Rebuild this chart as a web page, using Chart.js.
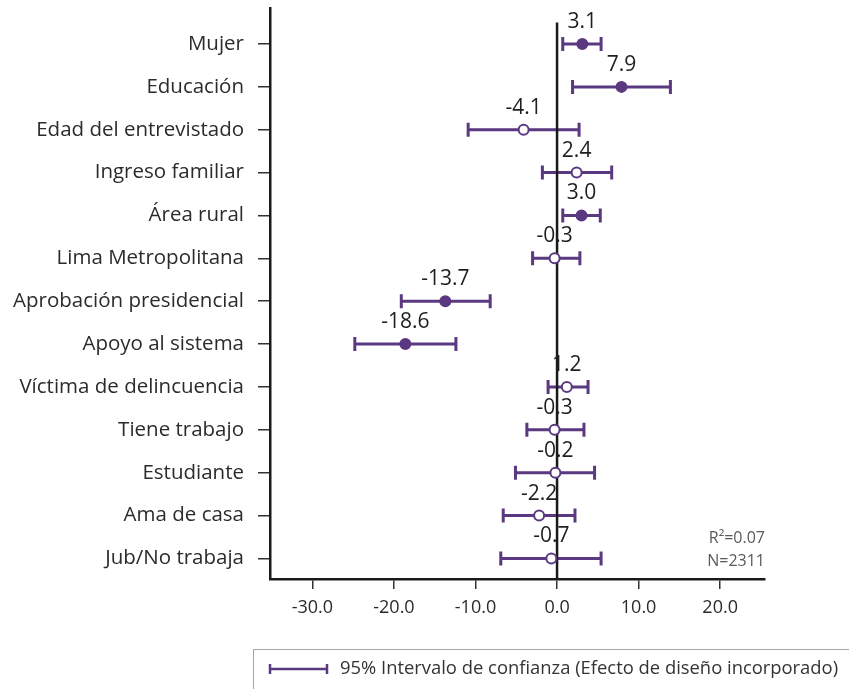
<!DOCTYPE html>
<html>
<head>
<meta charset="utf-8">
<script src="https://cdn.jsdelivr.net/npm/chart.js@4"></script>
<style>
  html, body { margin: 0; padding: 0; background: #fff; }
  canvas { display: block; }
</style>
</head>
<body>
<canvas id="coefChart" width="849" height="689"></canvas>
<script>
const categories = ['Mujer', 'Educación', 'Edad del entrevistado', 'Ingreso familiar', 'Área rural',
  'Lima Metropolitana', 'Aprobación presidencial', 'Apoyo al sistema', 'Víctima de delincuencia',
  'Tiene trabajo', 'Estudiante', 'Ama de casa', 'Jub/No trabaja'];
const coef = [3.1, 7.9, -4.1, 2.4, 3.0, -0.3, -13.7, -18.6, 1.2, -0.3, -0.2, -2.2, -0.7];
const ciLow = [0.7, 1.9, -10.9, -1.8, 0.7, -3.0, -19.1, -24.8, -1.1, -3.7, -5.1, -6.6, -6.9];
const ciHigh = [5.4, 13.9, 2.7, 6.7, 5.3, 2.8, -8.2, -12.4, 3.8, 3.3, 4.6, 2.2, 5.4];
const significant = [true, true, false, false, true, false, true, true, false, false, false, false, false];
const xTicks = [-30, -20, -10, 0, 10, 20];
const statsText = ['R²=0.07', 'N=2311'];
const legendText = '95% Intervalo de confianza (Efecto de diseño incorporado)';

const purple = '#5b3981';
const FONT = '"Open Sans", "Noto Sans", sans-serif';

// error bars + zero line (under the points)
const errorBars = {
  id: 'errorBars',
  beforeDatasetsDraw(chart) {
    const ctx = chart.ctx;
    const xs = chart.scales.x, ys = chart.scales.y;
    ctx.save();
    ctx.strokeStyle = purple;
    ctx.lineWidth = 3;
    coef.forEach((v, i) => {
      const y = ys.getPixelForValue(i);
      const x1 = xs.getPixelForValue(ciLow[i]);
      const x2 = xs.getPixelForValue(ciHigh[i]);
      ctx.beginPath();
      ctx.moveTo(x1, y); ctx.lineTo(x2, y);
      ctx.moveTo(x1, y - 7); ctx.lineTo(x1, y + 7);
      ctx.moveTo(x2, y - 7); ctx.lineTo(x2, y + 7);
      ctx.stroke();
    });
    // zero line
    const x0 = xs.getPixelForValue(0);
    ctx.strokeStyle = '#1a1a1a';
    ctx.lineWidth = 2.5;
    ctx.beginPath();
    ctx.moveTo(x0, ys.getPixelForValue(-0.5));
    ctx.lineTo(x0, chart.chartArea.bottom);
    ctx.stroke();
    ctx.restore();
  },
  afterDraw(chart) {
    const ctx = chart.ctx;
    const xs = chart.scales.x, ys = chart.scales.y;
    ctx.save();
    // value labels
    ctx.fillStyle = '#1f1f1f';
    ctx.font = '21px ' + FONT;
    ctx.textAlign = 'center';
    ctx.textBaseline = 'middle';
    coef.forEach((v, i) => {
      ctx.fillText(v.toFixed(1), xs.getPixelForValue(v), ys.getPixelForValue(i) - 22);
    });
    // stats
    ctx.fillStyle = '#595959';
    ctx.font = '16px ' + FONT;
    ctx.textAlign = 'right';
    ctx.fillText(statsText[0], chart.chartArea.right, 538);
    ctx.fillText(statsText[1], chart.chartArea.right, 561);
    // legend box
    ctx.strokeStyle = '#a6a6a6';
    ctx.lineWidth = 1;
    ctx.strokeRect(253.5, 649.5, 620, 60);
    ctx.strokeStyle = purple;
    ctx.lineWidth = 2.5;
    ctx.beginPath();
    ctx.moveTo(270, 669); ctx.lineTo(327, 669);
    ctx.moveTo(270, 664); ctx.lineTo(270, 674);
    ctx.moveTo(327, 664); ctx.lineTo(327, 674);
    ctx.stroke();
    ctx.fillStyle = '#333';
    ctx.font = '18.4px ' + FONT;
    ctx.textAlign = 'left';
    ctx.fillText(legendText, 340, 669);
    ctx.restore();
  }
};

const ctx = document.getElementById('coefChart').getContext('2d');
const coefChart = new Chart(ctx, {
  type: 'scatter',
  data: {
    datasets: [{
      data: coef.map((v, i) => ({ x: v, y: i })),
      pointRadius: 5,
      pointBorderWidth: 2,
      pointBorderColor: purple,
      pointBackgroundColor: significant.map(s => s ? purple : '#fff')
    }]
  },
  options: {
    responsive: false,
    animation: false,
    layout: { padding: { top: 8, right: 84, left: 0, bottom: 0 } },
    plugins: { legend: { display: false }, tooltip: { enabled: false } },
    scales: {
      x: {
        type: 'linear',
        min: -35.2,
        max: 25.5,
        afterBuildTicks: axis => { axis.ticks = xTicks.map(v => ({ value: v })); },
        afterFit: axis => {
          axis.height = 110;
          axis.paddingLeft = 0; axis.paddingRight = 0;
        },
        border: { display: true, color: '#1a1a1a', width: 2.5 },
        grid: { drawOnChartArea: false, drawTicks: true, tickLength: 10, color: '#333', lineWidth: 1.5 },
        ticks: {
          padding: 8,
          color: '#2b2b2b',
          font: { family: FONT, size: 18 },
          callback: v => v.toFixed(1)
        }
      },
      y: {
        type: 'linear',
        reverse: true,
        min: -0.84,
        max: 12.48,
        afterBuildTicks: axis => { axis.ticks = categories.map((c, i) => ({ value: i })); },
        afterFit: axis => {
          axis.width = 270;
          axis.paddingTop = 0; axis.paddingBottom = 0;
        },
        border: { display: true, color: '#1a1a1a', width: 2.5 },
        grid: { drawOnChartArea: false, drawTicks: true, tickLength: 12, color: '#333', lineWidth: 1.5 },
        ticks: {
          padding: 14,
          color: '#2b2b2b',
          font: { family: FONT, size: 20.5 },
          callback: v => categories[v]
        }
      }
    }
  },
  plugins: [errorBars]
});
</script>
</body>
</html>
